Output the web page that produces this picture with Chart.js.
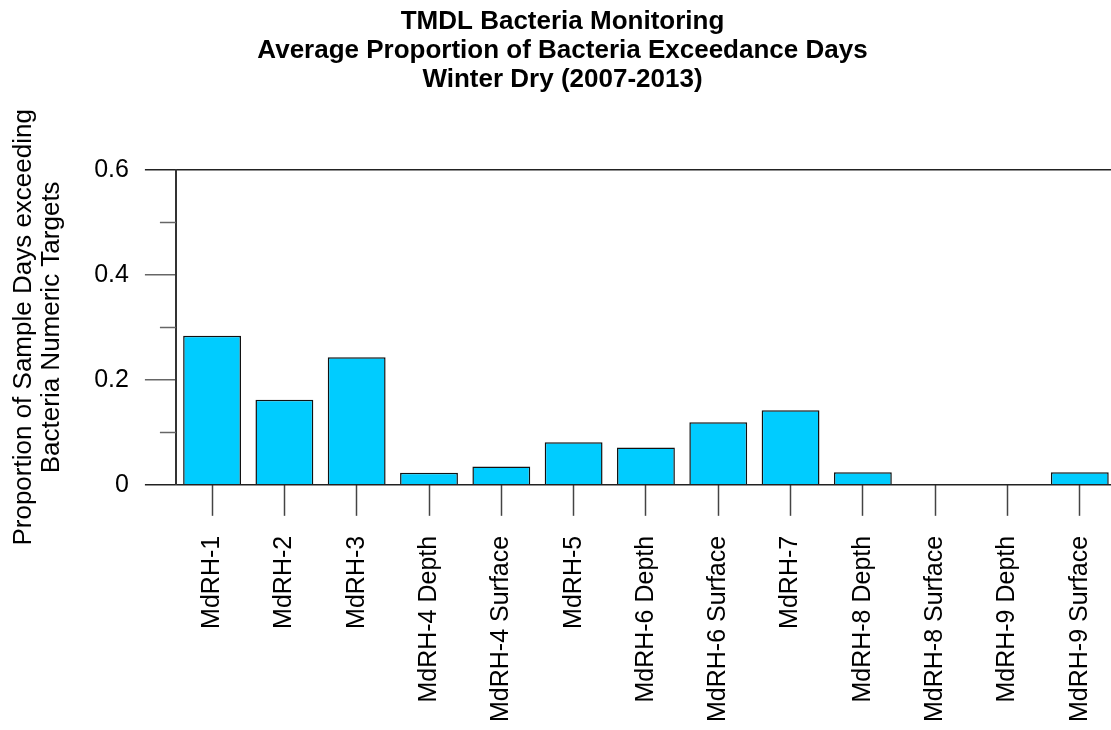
<!DOCTYPE html>
<html>
<head>
<meta charset="utf-8">
<script src="https://cdn.jsdelivr.net/npm/chart.js@4.4.1/dist/chart.umd.min.js"></script>
<style>
  html, body { margin: 0; padding: 0; background: #fff; overflow: hidden; }
  #wrap { width: 1130px; height: 730px; }
</style>
</head>
<body>
<div id="wrap"><canvas id="Chart-1" width="1130" height="730"></canvas></div>
<script>
var stations = ["MdRH-1", "MdRH-2", "MdRH-3", "MdRH-4 Depth", "MdRH-4 Surface", "MdRH-5",
  "MdRH-6 Depth", "MdRH-6 Surface", "MdRH-7", "MdRH-8 Depth", "MdRH-8 Surface",
  "MdRH-9 Depth", "MdRH-9 Surface"];
var proportions = [0.284, 0.162, 0.243, 0.023, 0.035, 0.081, 0.071, 0.119, 0.142, 0.024, 0, 0, 0.024];
var yMajorTicks = [0, 0.2, 0.4, 0.6];
var yMinorTicks = [0.1, 0.3, 0.5];
var titleLines = ["TMDL Bacteria Monitoring", "Average Proportion of Bacteria Exceedance Days", "Winter Dry (2007-2013)"];
var yTitleLines = ["Proportion of Sample Days exceeding", "Bacteria Numeric Targets"];

var fontFam = "'Liberation Sans', Arial, sans-serif";

function isEdge(v) {
  return Math.abs(v - 0) < 1e-9 || Math.abs(v - 0.6) < 1e-9;
}

// short ticks at 0.1, 0.3, 0.5
var minorTicks = {
  id: "minorTicks",
  afterDraw: function(chart) {
    var ctx = chart.ctx, y = chart.scales.y, left = chart.chartArea.left;
    ctx.save();
    ctx.strokeStyle = "#666";
    ctx.lineWidth = 1.5;
    yMinorTicks.forEach(function(v) {
      var py = Math.round(y.getPixelForValue(v)) + 0.5;
      ctx.beginPath();
      ctx.moveTo(left - 16, py);
      ctx.lineTo(left, py);
      ctx.stroke();
    });
    ctx.restore();
  }
};

new Chart("Chart-1", {
  type: "bar",
  data: {
    labels: stations,
    datasets: [{
      data: proportions,
      backgroundColor: "#00CCFF",
      borderColor: "#111",
      borderWidth: 1.5,
      barPercentage: 0.8,
      categoryPercentage: 1.0
    }]
  },
  plugins: [minorTicks],
  options: {
    responsive: false,
    animation: false,
    layout: { padding: { top: 2, right: 5, bottom: -12, left: 0 } },
    plugins: {
      legend: { display: false },
      tooltip: { enabled: false },
      title: {
        display: true,
        text: titleLines,
        color: "#000",
        font: { family: fontFam, size: 26, weight: "bold", lineHeight: 1.1 },
        padding: { top: 6, bottom: 76 }
      }
    },
    scales: {
      x: {
        offset: true,
        border: { display: false },
        grid: {
          offset: false,
          drawOnChartArea: false,
          tickLength: 31,
          tickColor: "#444",
          tickWidth: 1.5
        },
        ticks: {
          autoSkip: false,
          minRotation: 90,
          maxRotation: 90,
          padding: 20,
          color: "#000",
          font: { family: fontFam, size: 25 }
        }
      },
      y: {
        min: 0,
        max: 0.6,
        afterBuildTicks: function(axis) {
          axis.ticks = yMajorTicks.map(function(v) { return { value: v }; });
        },
        border: { display: true, color: "#333", width: 2 },
        grid: {
          tickLength: 31,
          color: function(c) { return isEdge(c.tick.value) ? "#222" : "rgba(0,0,0,0)"; },
          lineWidth: 1.5,
          tickColor: function(c) { return isEdge(c.tick.value) ? "#222" : "#666"; },
          tickWidth: 1.5
        },
        ticks: {
          padding: 16,
          color: "#000",
          font: { family: fontFam, size: 25 },
          callback: function(v) { return String(+v.toFixed(1)); }
        },
        title: {
          display: true,
          text: yTitleLines,
          color: "#000",
          font: { family: fontFam, size: 26, lineHeight: 1.08 },
          padding: { top: 10, bottom: 12 }
        }
      }
    }
  }
});
</script>
</body>
</html>
